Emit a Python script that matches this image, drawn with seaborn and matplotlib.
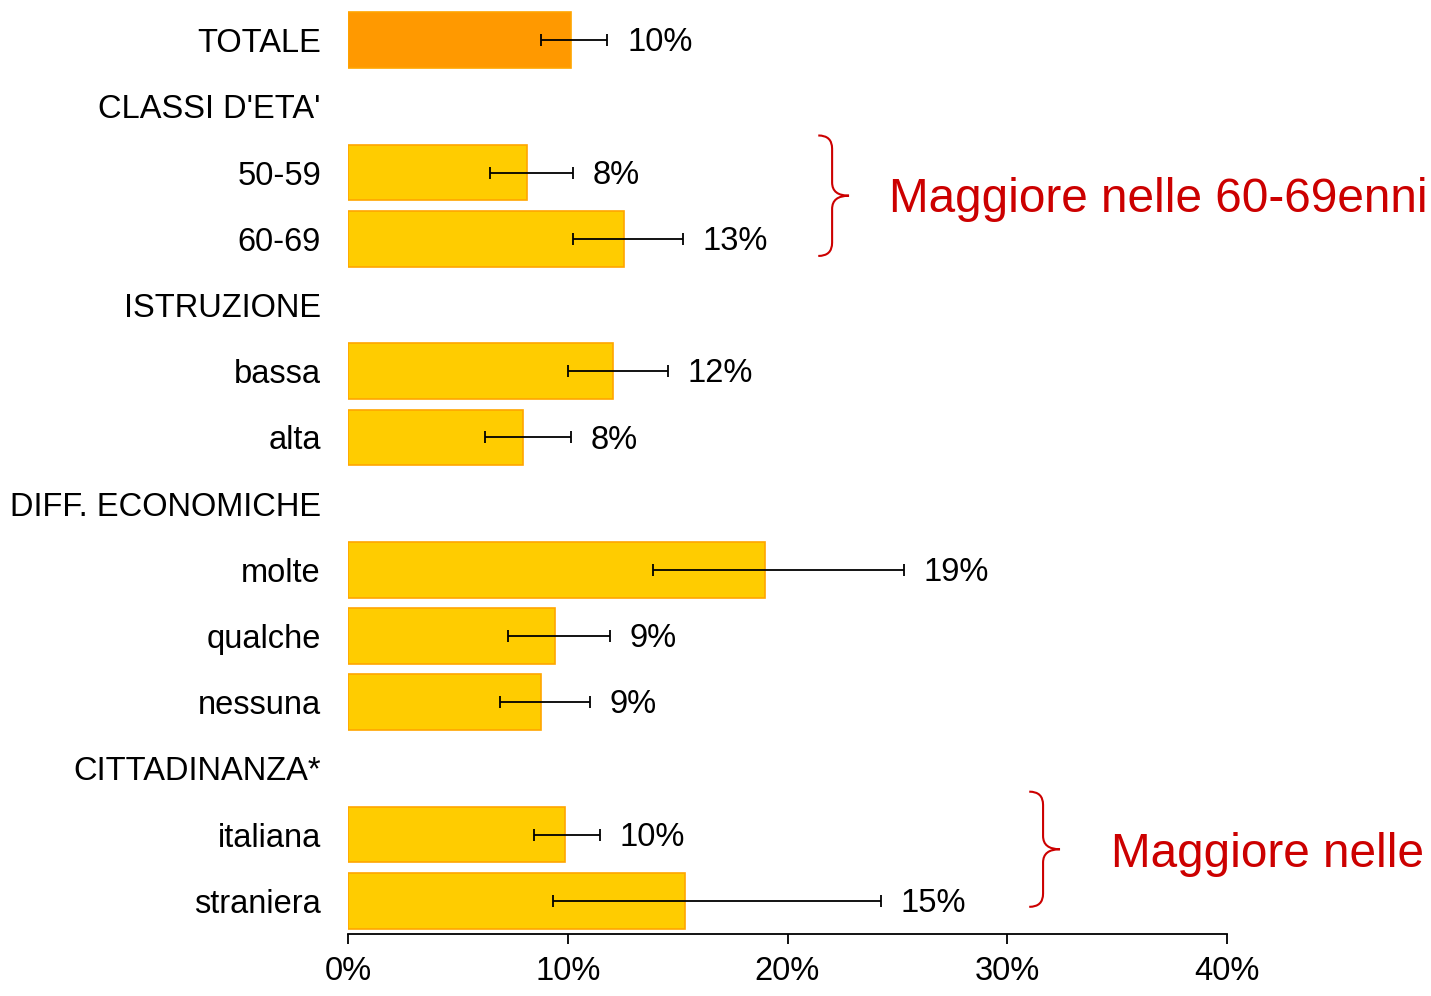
import pandas as pd
import seaborn as sns
import matplotlib as mpl
import matplotlib.pyplot as plt
import numpy as np
from matplotlib.path import Path
from matplotlib.patches import PathPatch

# Rows of the chart (headers have no bar)
rows = ["TOTALE", "CLASSI D'ETA'", "50-59", "60-69", "ISTRUZIONE", "bassa", "alta",
        "DIFF. ECONOMICHE", "molte", "qualche", "nessuna", "CITTADINANZA*",
        "italiana", "straniera"]

# Bars: category, value (%), lower and upper confidence limits (%)
categories = ["TOTALE", "50-59", "60-69", "bassa", "alta", "molte", "qualche",
              "nessuna", "italiana", "straniera"]
values = [10.15, 8.15, 12.56, 12.06, 7.96, 18.98, 9.42, 8.78, 9.87, 15.34]
ci_low = [8.8, 6.46, 10.24, 10.0, 6.23, 13.88, 7.28, 6.92, 8.46, 9.33]
ci_high = [11.8, 10.24, 15.24, 14.56, 10.15, 25.3, 11.92, 11.01, 11.47, 24.25]
groups = ["totale"] + ["sub"] * 9

x_ticks = [0, 10, 20, 30, 40]

notes = ["Maggiore nelle 60-69enni", "Maggiore nelle"]

df = pd.DataFrame({"cat": categories, "val": values, "lo": ci_low,
                   "hi": ci_high, "grp": groups})

sns.set_style("white")
plt.rcParams["font.family"] = ["Liberation Sans", "DejaVu Sans"]

fig = plt.figure(figsize=(14.31, 9.96), dpi=100)
ax = fig.add_axes([348 / 1431, 62 / 996, 879 / 1431, 927 / 996])

sns.barplot(data=df, x="val", y="cat", hue="grp", order=rows, orient="h",
            palette={"totale": "#FF9900", "sub": "#FFCC00"}, dodge=False,
            saturation=1, width=0.84, legend=False, ax=ax,
            edgecolor="#FFA500", linewidth=1.2)

# confidence intervals
pos = np.array([rows.index(c) for c in df["cat"]])
ax.errorbar(df["val"], pos, xerr=[df["val"] - df["lo"], df["hi"] - df["val"]],
            fmt="none", ecolor="black", elinewidth=1.3, capsize=4, capthick=1.3)

# value labels
for p, v, h in zip(pos, df["val"], df["hi"]):
    ax.text(h + 0.9, p + 0.04, f"{round(v)}%", va="center", ha="left",
            fontsize=23.5, color="black")

ax.set_xlim(0, 40)
ax.set_ylim(len(rows) - 0.5, -0.5)
ax.set_xticks(x_ticks)
ax.set_xticklabels([f"{t}%" for t in x_ticks])
ax.set_xlabel("")
ax.set_ylabel("")
ax.tick_params(axis="x", bottom=True, length=7, width=1.3, color="black",
               labelcolor="black", labelsize=23.5, pad=9)
ax.tick_params(axis="y", left=False, labelcolor="black", labelsize=23.5, pad=16)
for s in ["top", "right", "left"]:
    ax.spines[s].set_visible(False)
ax.spines["bottom"].set_color("black")
ax.spines["bottom"].set_linewidth(1.3)


def brace(ax, x0, w, y1, y2, color="#CC0000"):
    # curly brace opening to the left, tip to the right
    xm = x0 + w * 0.45
    xt = x0 + w
    ym = (y1 + y2) / 2
    r = 0.2
    verts = [(x0, y1), (xm, y1), (xm, y1 + r),
             (xm, ym - r), (xm, ym), (xt, ym),
             (xm, ym), (xm, ym + r),
             (xm, y2 - r), (xm, y2), (x0, y2)]
    codes = [Path.MOVETO, Path.CURVE3, Path.CURVE3,
             Path.LINETO, Path.CURVE3, Path.CURVE3,
             Path.CURVE3, Path.CURVE3,
             Path.LINETO, Path.CURVE3, Path.CURVE3]
    ax.add_patch(PathPatch(Path(verts, codes), fill=False, edgecolor=color,
                           linewidth=1.5, clip_on=False))


brace(ax, 21.4, 1.4, 1.44, 3.26)
ax.text(24.6, 2.4, notes[0], color="#CC0000", fontsize=34.4, va="center",
        ha="left", clip_on=False)
brace(ax, 31.0, 1.4, 11.35, 13.09)
ax.text(34.7, 12.3, notes[1], color="#CC0000", fontsize=34.4, va="center",
        ha="left", clip_on=False)

fig.savefig("out.png", dpi=100)
